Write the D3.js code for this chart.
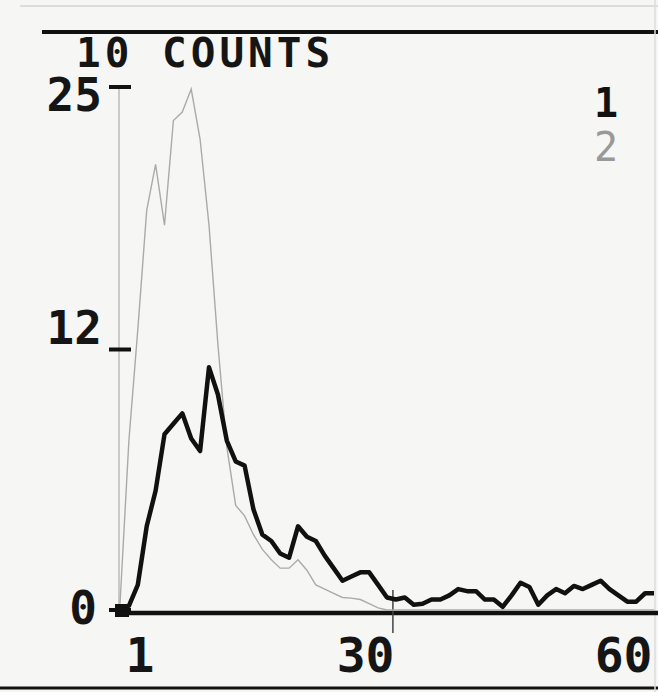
<!DOCTYPE html>
<html>
<head>
<meta charset="utf-8">
<script src="https://d3js.org/d3.v7.min.js"></script>
<style>
body { margin: 0; background: #f6f6f4; }
svg text { font-family: "DejaVu Sans Mono", monospace; font-weight: bold; }
</style>
</head>
<body>
<div id="chart"></div>
<script>
var channels = d3.range(0, 61);
var series1 = [0, 0.2, 1.2, 4.0, 5.7, 8.4, 8.9, 9.4, 8.2, 7.6,
	11.6, 10.3, 8.1, 7.1, 6.9, 4.8, 3.6, 3.3, 2.7, 2.5,
	4.0, 3.5, 3.3, 2.6, 2.0, 1.4, 1.6, 1.8, 1.8, 1.2,
	0.6, 0.5, 0.6, 0.25, 0.3, 0.5, 0.5, 0.7, 1.0, 0.9,
	0.9, 0.5, 0.5, 0.15, 0.7, 1.3, 1.1, 0.25, 0.7, 1.0,
	0.8, 1.15, 1.0, 1.2, 1.4, 1.0, 0.7, 0.4, 0.4, 0.8, 0.8];
var series2 = [0.3, 8.1, 13.4, 19.1, 21.3, 18.4, 23.4, 23.8, 24.9, 22.5,
	18.4, 12.7, 7.8, 5.0, 4.5, 3.6, 2.9, 2.4, 2.0, 2.0,
	2.4, 1.9, 1.2, 1.0, 0.8, 0.6, 0.57, 0.5, 0.3, 0.1,
	0, 0, 0, 0, 0, 0, 0, 0, 0, 0,
	0, 0, 0, 0, 0, 0, 0, 0, 0, 0,
	0, 0, 0, 0, 0, 0, 0, 0, 0, 0, 0];
var yTicks = [0, 12.5, 25];
var yLabels = ['0', '12', '25'];
var xTicks = [1, 30, 60];
var xLabels = ['1', '30', '60'];
var seriesNames = ['1', '2'];
var cursorChannel = 31;

var width = 658, height = 692;
var svg = d3.select('#chart').append('svg')
	.attr('width', width)
	.attr('height', height);

svg.append('rect').attr('width', width).attr('height', height).style('fill', '#f6f6f4');

var x = d3.scaleLinear().domain([0, 60]).range([120, 654]);
var y = d3.scaleLinear().domain([0, 25]).range([610, 87]);

// screen frame lines
svg.append('line').attr('x1', 20).attr('x2', 658).attr('y1', 6).attr('y2', 6)
	.style('stroke', '#dcdcdc').style('stroke-width', 2);
svg.append('line').attr('x1', 42).attr('x2', 658).attr('y1', 32).attr('y2', 32)
	.style('stroke', '#111').style('stroke-width', 4);
svg.append('line').attr('x1', 0).attr('x2', 658).attr('y1', 688).attr('y2', 688)
	.style('stroke', '#111').style('stroke-width', 3);
svg.append('line').attr('x1', 655).attr('x2', 655).attr('y1', 0).attr('y2', 692)
	.style('stroke', '#ddd').style('stroke-width', 1.5);

svg.append('text')
	.attr('x', 76).attr('y', 67)
	.style('font-size', '41px')
	.style('letter-spacing', '4px')
	.style('fill', '#151515')
	.text('10 COUNTS');

// y axis
svg.append('line').attr('x1', x(0) - 1).attr('x2', x(0) - 1).attr('y1', y(25)).attr('y2', y(0))
	.style('stroke', '#bbb').style('stroke-width', 1.5);

var yAxis = d3.axisLeft(y)
	.tickValues(yTicks)
	.tickSize(0)
	.tickPadding(0)
	.tickFormat((d, i) => yLabels[i]);
var gy = svg.append('g').attr('transform', 'translate(' + 102 + ',0)').call(yAxis);
gy.select('.domain').remove();
gy.selectAll('text')
	.attr('dy', d => d == 25 ? 23 : (d == 0 ? 13 : -5))
	.attr('dx', d => d == 0 ? -5 : 0)
	.style('font-size', '46px')
	.style('fill', '#151515');

svg.selectAll('.ytick')
	.data(yTicks)
	.enter().append('line')
	.attr('class', 'ytick')
	.attr('x1', 109).attr('x2', 131)
	.attr('y1', d => d == 12.5 ? y(d) + 1 : y(d)).attr('y2', d => d == 12.5 ? y(d) + 1 : y(d))
	.style('stroke', '#111').style('stroke-width', 4);
svg.append('rect').attr('x', 115).attr('y', y(0) - 6).attr('width', 14).attr('height', 13)
	.style('fill', '#111');

// x axis
var xAxis = d3.axisBottom(x)
	.tickValues(xTicks)
	.tickSize(0)
	.tickPadding(0)
	.tickFormat((d, i) => xLabels[i]);
var gx = svg.append('g').attr('transform', 'translate(0,' + 672 + ')').call(xAxis);
gx.select('.domain').remove();
gx.selectAll('text')
	.attr('text-anchor', 'end')
	.attr('dx', (d, i) => i == 0 ? 25 : (i == 1 ? 7 : -2))
	.attr('dy', 0)
	.attr('y', 0)
	.style('font-size', '48px')
	.style('fill', '#151515');

svg.append('line').attr('x1', x(0)).attr('x2', 658).attr('y1', y(0) + 3).attr('y2', y(0) + 3)
	.style('stroke', '#111').style('stroke-width', 4.5);

svg.append('line')
	.attr('x1', x(cursorChannel) - 3).attr('x2', x(cursorChannel) - 3)
	.attr('y1', 590).attr('y2', 633)
	.style('stroke', '#444').style('stroke-width', 1.5);

var line = d3.line()
	.x((d, i) => x(channels[i]))
	.y(d => y(d));

svg.append('path')
	.attr('d', line(series2))
	.style('fill', 'none')
	.style('stroke', '#aaa')
	.style('stroke-width', 1.4);

svg.append('path')
	.attr('d', line(series1))
	.style('fill', 'none')
	.style('stroke', '#111')
	.style('stroke-width', 4.5)
	.style('stroke-linejoin', 'round');

svg.selectAll('.legend')
	.data(seriesNames)
	.enter().append('text')
	.attr('class', 'legend')
	.attr('x', 606)
	.attr('y', (d, i) => 117 + i * 44)
	.attr('text-anchor', 'middle')
	.style('font-size', '40px')
	.style('fill', (d, i) => i == 0 ? '#111' : '#999')
	.style('font-weight', (d, i) => i == 0 ? 'bold' : 'normal')
	.text(d => d);
</script>
</body>
</html>
